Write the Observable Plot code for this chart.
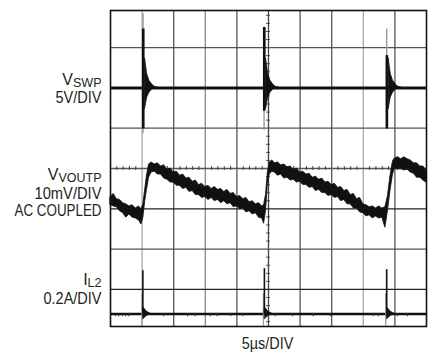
<!DOCTYPE html>
<html>
<head>
<meta charset="utf-8">
<script src="https://cdn.jsdelivr.net/npm/d3@7"></script>
<script src="https://cdn.jsdelivr.net/npm/@observablehq/plot@0.6"></script>
<style>
  html, body { margin: 0; padding: 0; background: #fff; }
  #chart svg { display: block; }
</style>
</head>
<body>
<div id="chart"></div>
<script>
// ---------- data ----------
// time axis: 5 µs/DIV, 10 divisions
const timeDomain = [0, 50];

// V_VOUTP (mV, AC coupled), noisy band: upper and lower edge
const voutT = [0.0,0.5,1.0,1.5,2.0,2.5,3.0,3.5,4.0,4.5,4.9,5.2,5.5,5.8,6.1,6.5,7.0,7.5,8.0,8.5,9.0,9.5,10.0,10.5,11.0,11.5,12.0,12.5,13.0,13.5,14.0,14.5,15.0,15.5,16.0,16.5,17.0,17.5,18.0,18.5,19.0,19.5,20.0,20.5,21.0,21.5,22.0,22.5,23.0,23.5,24.0,24.3,24.6,24.9,25.2,25.6,26.0,26.5,27.0,27.5,28.0,28.5,29.0,29.5,30.0,30.5,31.0,31.5,32.0,32.5,33.0,33.5,34.0,34.5,35.0,35.5,36.0,36.5,37.0,37.5,38.0,38.5,39.0,39.5,40.0,40.5,41.0,41.5,42.0,42.5,43.0,43.5,43.9,44.3,44.7,45.0,45.5,46.0,46.5,47.0,47.5,48.0,48.5,49.0,49.5,50.0];
const voutUpper = [-7.1,-6.3,-7.6,-7.8,-8.6,-8.9,-9.4,-9.1,-9.9,-9.4,-10.1,-8.9,-5.1,-1.5,1.0,1.5,1.0,1.3,0.5,0.8,-0.3,0.0,-1.0,-0.8,-1.8,-1.5,-2.5,-2.3,-3.3,-3.0,-4.1,-3.8,-4.6,-4.3,-5.1,-4.6,-5.3,-5.1,-5.8,-5.3,-6.3,-6.1,-7.1,-6.8,-7.6,-7.3,-8.4,-8.1,-8.9,-8.6,-9.4,-9.1,-6.6,-1.0,1.5,2.0,1.3,1.5,0.8,1.0,0.3,0.5,-0.3,0.0,-1.0,-0.8,-1.5,-1.3,-2.3,-2.0,-2.8,-2.5,-3.5,-3.3,-4.1,-3.8,-4.8,-4.6,-5.6,-5.3,-6.6,-6.3,-7.6,-7.3,-8.9,-9.1,-9.6,-9.4,-9.9,-9.4,-9.9,-9.6,-6.8,-1.8,1.8,2.5,2.8,2.3,2.8,2.3,2.0,1.3,1.3,0.5,0.5,-0.5];
const voutLower = [-9.1,-9.4,-9.6,-10.6,-11.1,-12.2,-11.4,-12.2,-12.4,-12.9,-13.9,-12.2,-8.1,-5.1,-2.3,-1.0,-0.8,-1.5,-1.5,-2.5,-2.8,-3.5,-3.5,-4.3,-4.3,-5.1,-4.8,-5.8,-5.6,-6.6,-6.6,-7.3,-7.1,-7.8,-7.3,-8.1,-7.8,-8.6,-8.1,-8.9,-8.6,-9.6,-9.4,-10.1,-9.9,-10.9,-10.6,-11.4,-11.1,-12.2,-12.4,-13.7,-10.6,-4.1,-1.5,-0.8,-1.0,-1.8,-1.5,-2.5,-2.3,-3.0,-2.8,-3.5,-3.3,-4.1,-4.1,-4.8,-4.6,-5.6,-5.3,-6.1,-6.1,-6.8,-6.6,-7.3,-7.1,-8.1,-7.8,-8.9,-8.9,-9.9,-9.9,-10.9,-11.1,-11.9,-11.6,-12.4,-11.9,-12.4,-12.2,-14.7,-10.6,-5.6,-1.5,0.0,-0.3,0.0,-0.5,-0.3,-1.0,-1.3,-2.3,-2.3,-3.0,-3.5];

// V_SWP (V): switching events
const swpSpikeT      = [5.05, 24.2, 43.6];
const swpBarTop      = [7.3, 7.5, 4.0];
const swpBarBottom   = [-5.1, -2.9, -5.1];
const swpGrayTop     = [9.2, 7.5, 7.3];
const swpGrayBottom  = [-5.7, -5.3, -5.1];
// ringing envelope after each edge (µs after edge, V)
const swpRingDt = [0.42, 0.75, 1.1, 1.6, 2.0, 2.6];
const swpRingUp = [3.6, 1.7, 0.9, 0.35, 0.12, 0];
const swpRingLo = [-2.6, -1.2, -0.6, -0.15, -0.08, 0];

// I_L2 (A): current spikes
const il2SpikeT = [5.12, 24.35, 43.7];
const il2Top    = [0.215, 0.225, 0.22];
const il2GrayBottom = -0.06;
const il2RingDt = [0.1, 0.3, 0.6, 1.0, 1.3];
const il2RingUp = [0.03, 0.025, 0.012, 0.005, 0];
const il2RingLo = [-0.025, -0.02, -0.01, -0.004, 0];
// small noise dots just under the I_L2 baseline (µs)
const il2NoiseT = [0.8, 1.3, 1.9, 2.4, 2.9, 8.4, 12.2, 13.4, 15.8, 16.9, 19.0, 20.9, 26.1, 28.8, 32.1, 34.8, 41.6, 42.4, 45.4, 47.0];

// ---------- channel placement on the 8-division screen ----------
const SWP_POS = 6, SWP_PER_DIV = 5;        // 5V/DIV
const VOUT_POS = 4, VOUT_PER_DIV = 10;     // 10mV/DIV
const IL2_POS = 0.39, IL2_PER_DIV = 0.2;   // 0.2A/DIV
const swpY = v => SWP_POS + v / SWP_PER_DIV;
const voutY = v => VOUT_POS + v / VOUT_PER_DIV;
const il2Y = v => IL2_POS + v / IL2_PER_DIV;

const voutData = voutT.map((t, i) => ({t, lo: voutY(voutLower[i]), hi: voutY(voutUpper[i])}));
const swpSpikes = swpSpikeT.map((t, i) => ({t, top: swpY(swpBarTop[i]), bot: swpY(swpBarBottom[i]), gTop: swpY(swpGrayTop[i]), gBot: swpY(swpGrayBottom[i])}));
const swpRing = swpSpikeT.flatMap((t0, k) => swpRingDt.map((dt, j) => ({k, t: t0 + dt, hi: swpY(swpRingUp[j]), lo: swpY(swpRingLo[j])})));
const il2Spikes = il2SpikeT.map((t, i) => ({t, top: il2Y(il2Top[i])}));
const il2Ring = il2SpikeT.flatMap((t0, k) => il2RingDt.map((dt, j) => ({k, t: t0 + dt, hi: il2Y(il2RingUp[j]), lo: il2Y(il2RingLo[j])})));

// graticule
const vGrid = [
  {t: 5, c: "#aaa"}, {t: 10, c: "#555"}, {t: 15, c: "#888"}, {t: 20, c: "#555"},
  {t: 25, c: "#444"}, {t: 30, c: "#555"}, {t: 35, c: "#555"}, {t: 40, c: "#aaa"}, {t: 45, c: "#555"}
];
const hGrid = [
  {d: 1, c: "#222"}, {d: 2, c: "#555"}, {d: 3, c: "#222"}, {d: 4, c: "#555"},
  {d: 5, c: "#555"}, {d: 6, c: "#555"}, {d: 7, c: "#555"}
];
const minorT = d3.range(1, 50, 1).filter(t => t % 5 !== 0);
const minorD = d3.range(0.2, 7.9, 0.2).filter(d => Math.abs(d - Math.round(d)) > 0.05);

const plot = Plot.plot({
  width: 446, height: 362,
  marginLeft: 110, marginRight: 20, marginTop: 10, marginBottom: 36,
  x: {domain: timeDomain, axis: null},
  y: {domain: [0.08, 7.92], axis: null},
  style: {background: "#fff"},
  marks: [
    Plot.ruleX(vGrid, {x: "t", stroke: "c", strokeWidth: 1.3}),
    Plot.ruleY(hGrid, {y: "d", stroke: "c", strokeWidth: 1.3}),
    Plot.ruleX(minorT, {x: d => d, y1: VOUT_POS - 0.05, y2: VOUT_POS + 0.05, stroke: "#444", strokeWidth: 1}),
    Plot.ruleY(minorD, {y: d => d, x1: 24.7, x2: 25.3, stroke: "#444", strokeWidth: 1}),
    // V_SWP
    Plot.ruleY([swpY(0)], {stroke: "#111", strokeWidth: 3}),
    Plot.ruleX(swpSpikes, {x: d => d.t + 0.1, y1: "gBot", y2: "gTop", stroke: "#999", strokeWidth: 1.4}),
    Plot.rect(swpSpikes, {x1: "t", x2: d => d.t + 0.42, y1: "bot", y2: "top", fill: "#111"}),
    Plot.areaY(swpRing, {x: "t", y1: "lo", y2: "hi", z: "k", fill: "#111", stroke: "#111", strokeWidth: 0.8}),
    // V_VOUTP
    Plot.areaY(voutData, {x: "t", y1: "lo", y2: "hi", fill: "#111", stroke: "#111", strokeWidth: 0.8}),
    // I_L2
    Plot.ruleY([il2Y(0)], {stroke: "#111", strokeWidth: 2.5}),
    Plot.ruleX(il2NoiseT, {x: d => d, y1: il2Y(0), y2: il2Y(-0.013), stroke: "#333", strokeWidth: 1.2}),
    Plot.ruleX(il2Spikes, {x: d => d.t - 0.15, y1: il2Y(il2GrayBottom), y2: il2Y(0.1), stroke: "#999", strokeWidth: 1.2}),
    Plot.ruleX(il2Spikes, {x: "t", y1: il2Y(0), y2: "top", stroke: "#111", strokeWidth: 1.6}),
    Plot.areaY(il2Ring, {x: "t", y1: "lo", y2: "hi", z: "k", fill: "#111", stroke: "#111", strokeWidth: 0.8}),
    Plot.frame({stroke: "#111", strokeWidth: 1.6})
  ]
});
document.getElementById("chart").appendChild(plot);

// ---------- channel labels ----------
const X = plot.scale("x"), Y = plot.scale("y");
const svg = d3.select(plot);
const lx = X.apply(0) - 8.5;
const font = "'Liberation Sans Narrow', 'Liberation Sans', Arial, sans-serif";
function label(y, main, sub, len) {
  const t = svg.append("text")
    .attr("x", lx).attr("y", y)
    .attr("text-anchor", "end")
    .attr("font-family", font).attr("font-size", 16).attr("fill", "#231f20");
  if (len) t.attr("textLength", len).attr("lengthAdjust", "spacingAndGlyphs");
  t.append("tspan").text(main);
  if (sub) t.append("tspan").attr("font-size", 12.5).attr("dy", 2).text(sub);
}
const ySwp = Y.apply(SWP_POS), yVout = Y.apply(VOUT_POS), yIl2 = Y.apply(IL2_POS);
label(ySwp - 2, "V", "SWP");
label(ySwp + 16, "5V/DIV", null, 46);
label(yVout + 12.3, "V", "VOUTP");
label(yVout + 30.6, "10mV/DIV", null, 67);
label(yVout + 47.8, "AC COUPLED", null, 87);
label(yIl2 - 28.3, "I", "L2");
label(yIl2 - 10, "0.2A/DIV", null, 58);
svg.append("text")
  .attr("x", X.apply(25) - 0.5).attr("y", Y.apply(0.08) + 23.3)
  .attr("text-anchor", "middle")
  .attr("font-family", font).attr("font-size", 16).attr("fill", "#231f20")
  .attr("textLength", 51.5).attr("lengthAdjust", "spacingAndGlyphs")
  .text("5µs/DIV");
</script>
</body>
</html>
